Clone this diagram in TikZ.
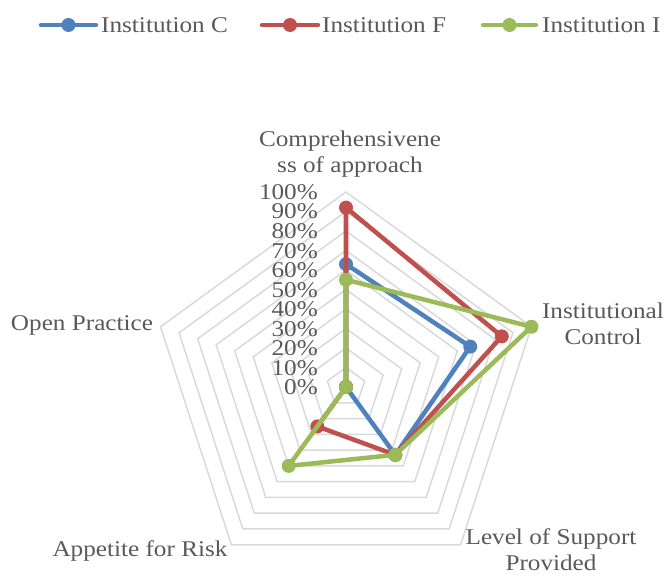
\documentclass[tikz,border=0pt]{standalone}
\usepackage{fontspec}
\setmainfont{Liberation Serif}[FakeStretch=1.12]
\usetikzlibrary{calc}
\definecolor{ringgray}{HTML}{D9D9D9}
\definecolor{txtgray}{HTML}{595959}
\definecolor{instC}{HTML}{4F81BD}
\definecolor{instF}{HTML}{C0504D}
\definecolor{instI}{HTML}{9BBB59}
\begin{document}
\begin{tikzpicture}[x=1pt,y=1pt,font=\fontsize{22.5}{26}\selectfont,text=txtgray,
  ring/.style={draw=ringgray,line width=1.5pt},
  series/.style={line width=4.5pt,line join=round,draw=#1},
  dot/.style={circle,fill=#1,inner sep=0pt,minimum size=14pt},
  lab/.style={align=center,inner sep=0pt},
  pct/.style={anchor=base east,inner sep=0pt,text height=12pt,text depth=0pt}]
\useasboundingbox (-346,-189) rectangle (323,387);
\def\R{195}
% rings at every 10%
\foreach \k in {1,...,10}
  \draw[ring] (90:\k*19.5) -- (18:\k*19.5) -- (-54:\k*19.5)
    -- (-126:\k*19.5) -- (162:\k*19.5) -- cycle;
% scale labels
\foreach \k in {0,...,10}
  \node[pct] (p\k) at (-28,\k*19.5-7.5) {\the\numexpr\k*10\relax\%};
% axis labels
\node[lab] (axA) at (4,232.5) {Comprehensivene\\ss of approach};
\node[lab] (axB) at (257,63) {Institutional\\Control};
\node[lab] (axC) at (205,-163) {Level of Support\\Provided};
\node[lab] (axD) at (-206,-164) {Appetite for Risk};
\node[lab] (axE) at (-264,62) {Open Practice};
% data points
\coordinate (C0) at (90:0.63*\R);
\coordinate (C1) at (18:0.67*\R);
\coordinate (C2) at (-54:0.43*\R);
\coordinate (C3) at (0,0);
\coordinate (C4) at (0,0);
\coordinate (F0) at (90:0.92*\R);
\coordinate (F1) at (18:0.84*\R);
\coordinate (F2) at (-54:0.43*\R);
\coordinate (F3) at (-126:0.25*\R);
\coordinate (F4) at (0,0);
\coordinate (I0) at (90:0.55*\R);
\coordinate (I1) at (18:1.0*\R);
\coordinate (I2) at (-54:0.43*\R);
\coordinate (I3) at (-126:0.50*\R);
\coordinate (I4) at (0,0);
\foreach \s in {C,F,I}{
  \draw[series=inst\s] (\s0) -- (\s1) -- (\s2) -- (\s3) -- (\s4) -- cycle;
  \foreach \i in {0,...,4}
    \node[dot=inst\s] at (\s\i) {};
}
% legend
\coordinate (lgC1) at (-305,362);
\coordinate (lgC2) at (-250,362);
\coordinate (lgF1) at (-84,362);
\coordinate (lgF2) at (-28,362);
\coordinate (lgI1) at (137,362);
\coordinate (lgI2) at (190,362);
\draw[series=instC,line cap=round] (lgC1) -- (lgC2);
\node[dot=instC] at ($(lgC1)!0.5!(lgC2)$) {};
\node[anchor=west,inner sep=0pt] (lgC) at (-245,362) {Institution C};
\draw[series=instF,line cap=round] (lgF1) -- (lgF2);
\node[dot=instF] at ($(lgF1)!0.5!(lgF2)$) {};
\node[anchor=west,inner sep=0pt] (lgF) at (-24,362) {Institution F};
\draw[series=instI,line cap=round] (lgI1) -- (lgI2);
\node[dot=instI] at ($(lgI1)!0.5!(lgI2)$) {};
\node[anchor=west,inner sep=0pt] (lgI) at (196,362) {Institution I};
\end{tikzpicture}
\end{document}
